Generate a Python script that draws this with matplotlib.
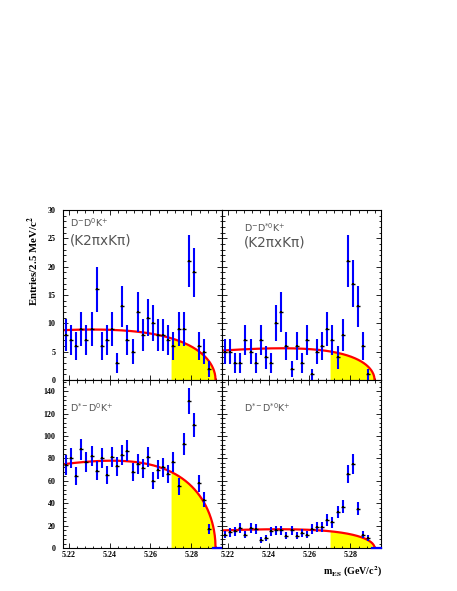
import numpy as np
import matplotlib
matplotlib.use('Agg')
import matplotlib.pyplot as plt
from matplotlib.ticker import MultipleLocator, FixedLocator

plt.rcParams['mathtext.fontset'] = 'stix'

# ---------------- data ----------------
m_es = [5.21875, 5.22125, 5.22375, 5.22625, 5.22875, 5.23125, 5.23375, 5.23625,
        5.23875, 5.24125, 5.24375, 5.24625, 5.24875, 5.25125, 5.25375, 5.25625,
        5.25875, 5.26125, 5.26375, 5.26625, 5.26875, 5.27125, 5.27375, 5.27625,
        5.27875, 5.28125, 5.28375, 5.28625, 5.28875]

counts_dm_d0_k = [8, 7, 6, 9, 7, 9, 16, 6, 7, 9, 3, 13, 7, 5, 12, 8, 11, 10, 8, 8,
                  7, 6, 9, 9, 21, 19, 6, 5, 2]
counts_dm_dst0_k = [5, 5, 3, 3, 7, 5, 3, 7, 4, 3, 10, 12, 6, 2, 6, 3, 7, 1, 5, 6,
                    9, 7, 4, 8, 21, 17, 13, 6, 1]
counts_dstm_d0_k = [74, 80, 64, 88, 77, 82, 69, 80, 65, 81, 73, 83, 87, 68, 75, 71,
                    81, 60, 70, 72, 66, 77, 55, 93, 131, 110, 58, 43, 17]
counts_dstm_dst0_k = [12, 14, 15, 18, 12, 18, 17, 7, 9, 15, 16, 16, 11, 16, 11, 13,
                      12, 17, 19, 19, 25, 23, 32, 37, 66, 75, 35, 12, 9]

# ARGUS background fit: (level at left edge, curvature c)
argus_levels = [8.8, 5.2, 74.8, 15.7]
argus_curv = [-21.6, -29.0, -25.7, -28.1]
argus_m0 = 5.2918
signal_start = 5.27

panel_labels = [r'$\mathdefault{D^{-}D^{0}K^{+}}$',
                r'$\mathdefault{D^{-}D^{*0}K^{+}}$',
                r'$\mathdefault{D^{*-}D^{0}K^{+}}$',
                r'$\mathdefault{D^{*-}D^{*0}K^{+}}$']
sub_label = '(K2\u03c0xK\u03c0)'

x_ticks = [5.22, 5.24, 5.26, 5.28]
y_ticks_top = [0, 5, 10, 15, 20, 25, 30]
y_ticks_bottom = [0, 20, 40, 60, 80, 100, 120, 140]
xlim = (5.21743, 5.2951)
ylims = [(0, 30), (0, 30), (0, 150), (0, 150)]

# ---------------- figure ----------------
W, H = 457, 591
fig = plt.figure(figsize=(W / 100, H / 100), dpi=100)


def ax_rect(px0, py0, px1, py1):
    return [px0 / W, 1 - py1 / H, (px1 - px0) / W, (py1 - py0) / H]


rects = [ax_rect(63.3, 210, 222.3, 380), ax_rect(222.3, 210, 381.3, 380),
         ax_rect(63.3, 380, 222.3, 548), ax_rect(222.3, 380, 381.3, 548)]
all_counts = [counts_dm_d0_k, counts_dm_dst0_k, counts_dstm_d0_k, counts_dstm_dst0_k]


def argus_shape(m, c):
    x = np.asarray(m) / argus_m0
    u = np.clip(1 - x ** 2, 0, None)
    return x * np.sqrt(u) * np.exp(c * u)


tick_font = dict(family='Liberation Serif', weight='bold', size=5.8)

for i in range(4):
    ax = fig.add_axes(rects[i])
    counts = np.array(all_counts[i], dtype=float)
    top = i < 2

    # ARGUS curve
    norm = argus_levels[i] / argus_shape(xlim[0], argus_curv[i])
    mm = np.linspace(xlim[0], argus_m0, 600)
    ff = norm * argus_shape(mm, argus_curv[i])
    sel = mm >= signal_start
    ax.fill_between(mm[sel], 0, ff[sel], color='#ffff00', lw=0, zorder=1)
    ax.plot(mm, ff, color='#ff0000', lw=1.6, zorder=2)
    if not top:
        ax.plot([5.2905, xlim[1]], [0, 0], color='#0000ff', lw=1.6, zorder=3,
                clip_on=False)

    # data
    ax.errorbar(m_es, counts, yerr=np.sqrt(counts), fmt='none', ecolor='#0000ff',
                elinewidth=1.5, capsize=0, zorder=3)
    ax.plot(m_es, counts, ls='none', marker='s', ms=1.6, mew=0, color='black',
            zorder=4)
    ax.plot(m_es, counts, ls='none', marker='_', ms=3.4, mew=1.0, color='black',
            zorder=4)

    # ticks
    ax.xaxis.set_major_locator(FixedLocator(x_ticks))
    ax.xaxis.set_minor_locator(MultipleLocator(0.004))
    if top:
        ax.yaxis.set_major_locator(FixedLocator(y_ticks_top))
        ax.yaxis.set_minor_locator(MultipleLocator(1))
    else:
        ax.yaxis.set_major_locator(FixedLocator(y_ticks_bottom))
        ax.yaxis.set_minor_locator(MultipleLocator(4))
    ax.tick_params(which='both', direction='in', top=True, right=True,
                   width=0.6, color='black')
    ax.tick_params(which='major', length=3.5)
    ax.tick_params(which='minor', length=1.8)
    ax.tick_params(axis='y', pad=5.5)
    ax.tick_params(axis='x', pad=2.5)
    if top:
        ax.tick_params(axis='x', labelbottom=False)
    else:
        ax.set_xticklabels(['%.2f' % t for t in x_ticks], fontdict=tick_font)
    if i % 2 == 1:
        ax.tick_params(axis='y', labelleft=False)
    else:
        yt = y_ticks_top if top else y_ticks_bottom
        ax.set_yticklabels(['%d' % t for t in yt], fontdict=tick_font)
    for s in ax.spines.values():
        s.set_linewidth(0.8)
        s.set_color('black')
    ax.set_xlim(*xlim)
    ax.set_ylim(*ylims[i])

# panel labels
label_pos = [(70, 227.3), (244, 231.5), (70, 411.7), (244.3, 411.7)]
for i, (px, py) in enumerate(label_pos):
    fig.text(px / W, 1 - py / H, panel_labels[i], fontsize=6.8, color='#555555',
             family='DejaVu Sans', va='baseline', ha='left')
fig.text(70 / W, 1 - 244 / H, sub_label, fontsize=9.8, color='#555555',
         family='DejaVu Sans', va='baseline', ha='left')
fig.text(244 / W, 1 - 247 / H, sub_label, fontsize=9.8, color='#555555',
         family='DejaVu Sans', va='baseline', ha='left')

# axis titles
fig.text(33 / W, 1 - 261 / H, r'Entries/2.5 MeV/c$^{\mathbf{2}}$', rotation=90,
         family='Liberation Serif', weight='bold', fontsize=7.8,
         ha='center', va='center')
fig.text(382.5 / W, 1 - 575 / H, r'm$_{\mathbf{ES}}$ (GeV/c$^{\mathbf{2}}$)',
         family='Liberation Serif', weight='bold', fontsize=7.2,
         ha='right', va='baseline')

fig.savefig('out.png', dpi=100)
